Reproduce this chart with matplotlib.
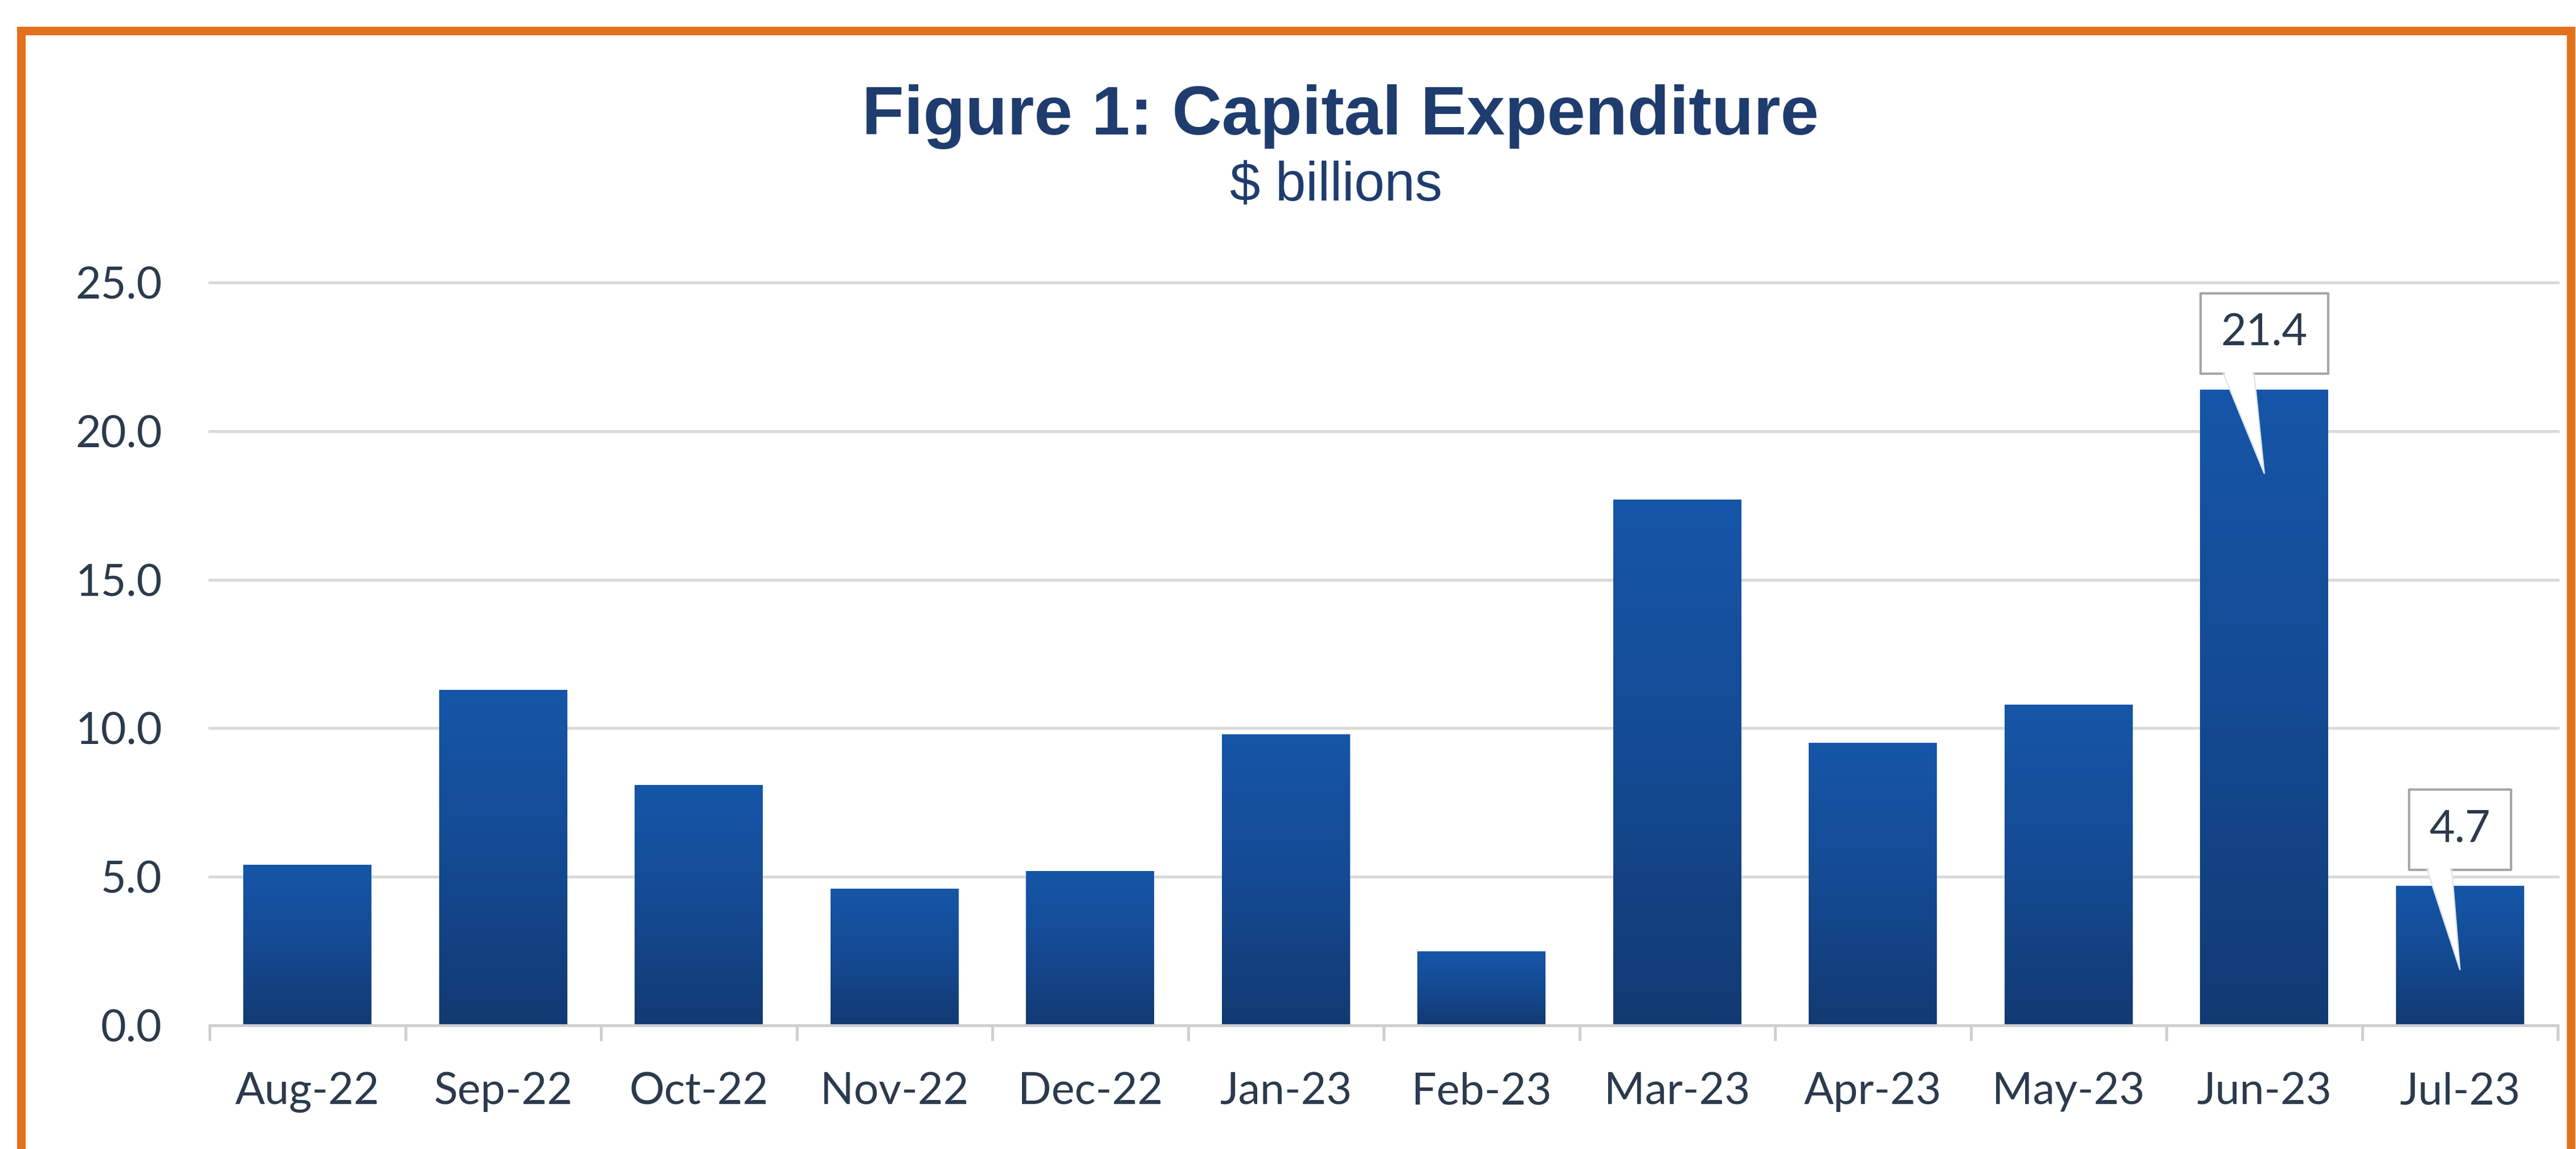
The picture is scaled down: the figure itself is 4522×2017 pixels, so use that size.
import numpy as np
import matplotlib
matplotlib.use("Agg")
import matplotlib.pyplot as plt
import matplotlib.transforms as mtransforms
from matplotlib.colors import LinearSegmentedColormap
from matplotlib.patches import Polygon, Rectangle
from matplotlib.lines import Line2D

# ---- data ----
months = ["Aug-22", "Sep-22", "Oct-22", "Nov-22", "Dec-22", "Jan-23",
          "Feb-23", "Mar-23", "Apr-23", "May-23", "Jun-23", "Jul-23"]
capex = [5.4, 11.3, 8.1, 4.6, 5.2, 9.8, 2.5, 17.7, 9.5, 10.8, 21.4, 4.7]
callout_months = ["Jun-23", "Jul-23"]
yticks = [0, 5, 10, 15, 20, 25]
title = "Figure 1: Capital Expenditure"
subtitle = "$ billions"

# ---- style ----
W, H, DPI = 4522, 2017, 300
TXT = "#2b3a4c"
TITLE_C = "#1f3c6e"
GRID_C = "#d9d9d9"
TICK_FONT = ["Lato", "DejaVu Sans"]

fig = plt.figure(figsize=(W / DPI, H / DPI), dpi=DPI)
fig.patch.set_facecolor("white")

ax_l, ax_r, ax_t, ax_b = 368, 4490, 496, 1800
ax = fig.add_axes([ax_l / W, 1 - ax_b / H, (ax_r - ax_l) / W, (ax_b - ax_t) / H])
ax.set_facecolor("none")

x = np.arange(len(months))
bars = ax.bar(x, capex, width=0.655, color="none", edgecolor="none", zorder=3)

cmap = LinearSegmentedColormap.from_list("bar", ["#123a72", "#144a93", "#1656a8"])
grad = np.linspace(0, 1, 256).reshape(-1, 1)
for b in bars:
    x0, y0, w, h = b.get_x(), b.get_y(), b.get_width(), b.get_height()
    im = ax.imshow(grad, extent=[x0, x0 + w, y0, y0 + h], origin="lower",
                   cmap=cmap, aspect="auto", zorder=3, interpolation="bilinear")
    im.set_clip_path(b)

ax.set_xlim(-0.5, len(months) - 0.5)
ax.set_ylim(0, 25)

for yv in yticks[1:]:
    ax.axhline(yv, color=GRID_C, lw=1.2, zorder=1, clip_on=False)

for s in ["top", "right", "left"]:
    ax.spines[s].set_visible(False)
ax.spines["bottom"].set_color("#cfcfcf")
ax.spines["bottom"].set_linewidth(1.2)
ax.spines["bottom"].set_zorder(4)

ax.set_yticks(yticks)
ax.set_yticklabels([f"{v:.1f}" for v in yticks])
ax.set_xticks(x)
ax.set_xticklabels(months)
ax.set_xticks(np.arange(-0.5, len(months)), minor=True)
ax.tick_params(axis="x", which="major", length=0, pad=19.5, labelsize=18.5,
               labelcolor=TXT)
ax.tick_params(axis="x", which="minor", length=6.5, width=1.2, color="#cfcfcf")
ax.tick_params(axis="y", length=0, pad=20, labelsize=18.5, labelcolor=TXT)
for lab in ax.get_xticklabels() + ax.get_yticklabels():
    lab.set_family(TICK_FONT)

# ---- callouts ----
fig.canvas.draw()
renderer = fig.canvas.get_renderer()
px = 1.0 / DPI
for m in callout_months:
    i = months.index(m)
    v = capex[i]
    trans = fig.dpi_scale_trans + mtransforms.ScaledTranslation(i, v, ax.transData)
    bot, top, tip = 28, 169, -147
    t = fig.text(0, (bot + top) / 2 * px, f"{v:.1f}", transform=trans,
                 ha="center", va="center", fontsize=18.5, color=TXT,
                 family=TICK_FONT, zorder=12)
    tw = t.get_window_extent(renderer).width
    w = tw + 72
    verts = [(-w / 2, bot), (-w / 2, top), (w / 2, top), (w / 2, bot),
             (-0.08 * w, bot), (0, tip), (-0.32 * w, bot)]
    verts = [(a * px, b_ * px) for a, b_ in verts]
    fig.patches.append(Polygon(verts, closed=True, transform=trans,
                               facecolor="white", edgecolor="none", zorder=10))
    outline = [(-0.32 * w, bot), (-w / 2, bot), (-w / 2, top), (w / 2, top),
               (w / 2, bot), (-0.08 * w, bot)]
    fig.lines.append(Line2D([p[0] * px for p in outline], [p[1] * px for p in outline],
                            transform=trans, color="#a6a6a6", lw=1.0, zorder=11))
    wedge = [(-0.08 * w, bot), (0, tip), (-0.32 * w, bot)]
    fig.lines.append(Line2D([p[0] * px for p in wedge], [p[1] * px for p in wedge],
                            transform=trans, color="#dfe6ee", lw=0.6, zorder=11))

# ---- titles ----
fig.text(2353 / W, 1 - 236 / H, title, ha="center", va="baseline",
         fontsize=29, fontweight="bold", family="Liberation Sans", color=TITLE_C)
fig.text(2345 / W, 1 - 352 / H, subtitle, ha="center", va="baseline",
         fontsize=23, family="Liberation Sans", color=TITLE_C)

# ---- orange frame ----
lw_pt = 15 / DPI * 72
fig.patches.append(Rectangle((36.5 / W, -0.1), (4513 - 36.5) / W, 1.1 - 54.5 / H,
                             transform=fig.transFigure, fill=False,
                             edgecolor="#e2711d", lw=lw_pt, zorder=20))

fig.savefig("out.png", dpi=DPI, facecolor="white")
